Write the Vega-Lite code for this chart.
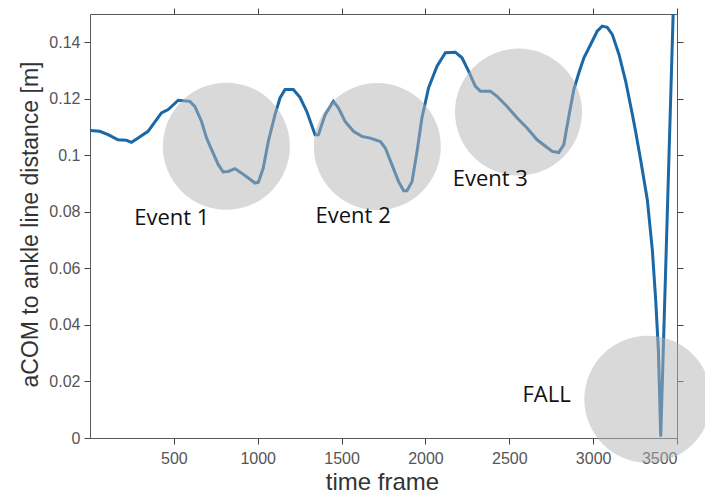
{
  "$schema": "https://vega.github.io/schema/vega-lite/v6.json",
  "width": 587,
  "height": 424,
  "autosize": "none",
  "padding": {"left": 90, "top": 14, "right": 28, "bottom": 56},
  "background": "white",
  "config": {
    "view": {"stroke": "#5a5a5a", "strokeWidth": 1},
    "axis": {
      "grid": false,
      "labelColor": "#555555",
      "labelFont": "Liberation Sans",
      "labelFontSize": 16,
      "titleColor": "#333333",
      "titleFont": "Liberation Sans",
      "titleFontWeight": "normal"
    }
  },
  "datasets": {
    "curve": [
      {"frame": 0, "dist": 0.1088}, {"frame": 58, "dist": 0.1085}, {"frame": 108, "dist": 0.1073},
      {"frame": 167, "dist": 0.1055}, {"frame": 217, "dist": 0.1053}, {"frame": 247, "dist": 0.1046},
      {"frame": 287, "dist": 0.1061}, {"frame": 346, "dist": 0.1085}, {"frame": 426, "dist": 0.1150},
      {"frame": 466, "dist": 0.1162}, {"frame": 526, "dist": 0.1195}, {"frame": 595, "dist": 0.1191},
      {"frame": 625, "dist": 0.1173}, {"frame": 665, "dist": 0.1120}, {"frame": 695, "dist": 0.1061},
      {"frame": 725, "dist": 0.1020}, {"frame": 765, "dist": 0.0967}, {"frame": 794, "dist": 0.0941},
      {"frame": 824, "dist": 0.0943}, {"frame": 864, "dist": 0.0953}, {"frame": 904, "dist": 0.0937},
      {"frame": 944, "dist": 0.0920}, {"frame": 984, "dist": 0.0902}, {"frame": 1004, "dist": 0.0905},
      {"frame": 1033, "dist": 0.0955}, {"frame": 1063, "dist": 0.1049}, {"frame": 1103, "dist": 0.1144},
      {"frame": 1133, "dist": 0.1203}, {"frame": 1163, "dist": 0.1233}, {"frame": 1212, "dist": 0.1233},
      {"frame": 1252, "dist": 0.1205}, {"frame": 1292, "dist": 0.1156}, {"frame": 1342, "dist": 0.1073},
      {"frame": 1362, "dist": 0.1073}, {"frame": 1402, "dist": 0.1144}, {"frame": 1451, "dist": 0.1191},
      {"frame": 1481, "dist": 0.1168}, {"frame": 1521, "dist": 0.1120}, {"frame": 1571, "dist": 0.1085},
      {"frame": 1621, "dist": 0.1067}, {"frame": 1671, "dist": 0.1061}, {"frame": 1731, "dist": 0.1049},
      {"frame": 1761, "dist": 0.1026}, {"frame": 1800, "dist": 0.0967}, {"frame": 1840, "dist": 0.0907},
      {"frame": 1870, "dist": 0.0875}, {"frame": 1890, "dist": 0.0875}, {"frame": 1920, "dist": 0.0907},
      {"frame": 1950, "dist": 0.1014}, {"frame": 1979, "dist": 0.1132}, {"frame": 2019, "dist": 0.1239},
      {"frame": 2069, "dist": 0.1315}, {"frame": 2119, "dist": 0.1363}, {"frame": 2178, "dist": 0.1365},
      {"frame": 2218, "dist": 0.1345}, {"frame": 2258, "dist": 0.1297}, {"frame": 2298, "dist": 0.1244},
      {"frame": 2328, "dist": 0.1227}, {"frame": 2387, "dist": 0.1227}, {"frame": 2427, "dist": 0.1209},
      {"frame": 2487, "dist": 0.1173}, {"frame": 2547, "dist": 0.1132}, {"frame": 2606, "dist": 0.1097},
      {"frame": 2666, "dist": 0.1055}, {"frame": 2716, "dist": 0.1032}, {"frame": 2756, "dist": 0.1014},
      {"frame": 2795, "dist": 0.1010}, {"frame": 2825, "dist": 0.1038}, {"frame": 2855, "dist": 0.1138},
      {"frame": 2885, "dist": 0.1233}, {"frame": 2915, "dist": 0.1292}, {"frame": 2945, "dist": 0.1345},
      {"frame": 2985, "dist": 0.1392}, {"frame": 3024, "dist": 0.1439}, {"frame": 3054, "dist": 0.1457},
      {"frame": 3084, "dist": 0.1453}, {"frame": 3114, "dist": 0.1428}, {"frame": 3154, "dist": 0.1357},
      {"frame": 3194, "dist": 0.1262}, {"frame": 3234, "dist": 0.1144}, {"frame": 3253, "dist": 0.1085},
      {"frame": 3283, "dist": 0.0984}, {"frame": 3323, "dist": 0.0843}, {"frame": 3353, "dist": 0.0665},
      {"frame": 3373, "dist": 0.0488}, {"frame": 3389, "dist": 0.0311}, {"frame": 3403, "dist": 0.0005},
      {"frame": 3440, "dist": 0.0750}, {"frame": 3478, "dist": 0.1520}
    ],
    "circles": [
      {"frame": 813, "dist": 0.1032},
      {"frame": 1713, "dist": 0.1031},
      {"frame": 2555, "dist": 0.1153},
      {"frame": 3326, "dist": 0.0137}
    ],
    "labels": [
      {"frame": 488, "dist": 0.0779, "label": "Event 1"},
      {"frame": 1569, "dist": 0.0786, "label": "Event 2"},
      {"frame": 2387, "dist": 0.0917, "label": "Event 3"},
      {"frame": 2722, "dist": 0.0152, "label": "FALL"}
    ]
  },
  "layer": [
    {
      "data": {"name": "curve"},
      "mark": {"type": "line", "color": "#1a68a6", "strokeWidth": 3, "clip": true},
      "encoding": {
        "x": {
          "field": "frame", "type": "quantitative",
          "scale": {"domain": [0, 3500], "nice": false, "zero": false},
          "axis": {
            "orient": "bottom",
            "values": [500, 1000, 1500, 2000, 2500, 3000, 3500],
            "format": "d",
            "domain": false,
            "ticks": true,
            "tickColor": "#404040",
            "tickSize": 6,
            "tickWidth": 1,
            "labelPadding": 6,
            "title": "time frame",
            "titleFontSize": 24,
            "titleX": 292,
            "titleY": 51,
            "titleAlign": "center",
            "titleBaseline": "alphabetic"
          }
        },
        "y": {
          "field": "dist", "type": "quantitative",
          "scale": {"domain": [0, 0.15], "nice": false, "zero": false},
          "axis": {
            "orient": "left",
            "values": [0, 0.02, 0.04, 0.06, 0.08, 0.1, 0.12, 0.14],
            "format": "~g",
            "domain": false,
            "ticks": true,
            "tickColor": "#404040",
            "tickSize": 6,
            "tickWidth": 1,
            "labelPadding": 4,
            "title": "aCOM to ankle line distance [m]",
            "titleFontSize": 23,
            "titleX": -60,
            "titleY": 210,
            "titleAngle": -90,
            "titleAlign": "center",
            "titleBaseline": "middle"
          }
        }
      }
    },
    {
      "data": {"name": "circles"},
      "mark": {"type": "point", "shape": "circle", "filled": true, "color": "#b3b3b3", "opacity": 0.5, "size": 16129, "strokeWidth": 0, "clip": false},
      "encoding": {
        "x": {
          "field": "frame", "type": "quantitative",
          "scale": {"domain": [0, 3500], "nice": false, "zero": false},
          "axis": {"orient": "top", "domain": false, "ticks": true, "tickColor": "#404040", "tickSize": 6, "tickWidth": 1, "labels": false, "title": null, "values": [500, 1000, 1500, 2000, 2500, 3000, 3500]}
        },
        "y": {
          "field": "dist", "type": "quantitative",
          "scale": {"domain": [0, 0.15], "nice": false, "zero": false},
          "axis": {"orient": "right", "domain": false, "ticks": true, "tickColor": "#404040", "tickSize": 6, "tickWidth": 1, "labels": false, "title": null, "values": [0.02, 0.04, 0.06, 0.08, 0.1, 0.12, 0.14]}
        }
      }
    },
    {
      "data": {"name": "labels"},
      "mark": {"type": "text", "font": "Open Sans", "fontSize": 22, "fontWeight": 500, "color": "#111111", "align": "center", "baseline": "middle", "clip": false},
      "encoding": {
        "x": {"field": "frame", "type": "quantitative", "scale": {"domain": [0, 3500], "nice": false, "zero": false}, "axis": null},
        "y": {"field": "dist", "type": "quantitative", "scale": {"domain": [0, 0.15], "nice": false, "zero": false}, "axis": null},
        "text": {"field": "label", "type": "nominal"}
      }
    }
  ],
  "resolve": {"scale": {"x": "independent", "y": "independent"}, "axis": {"x": "independent", "y": "independent"}}
}
